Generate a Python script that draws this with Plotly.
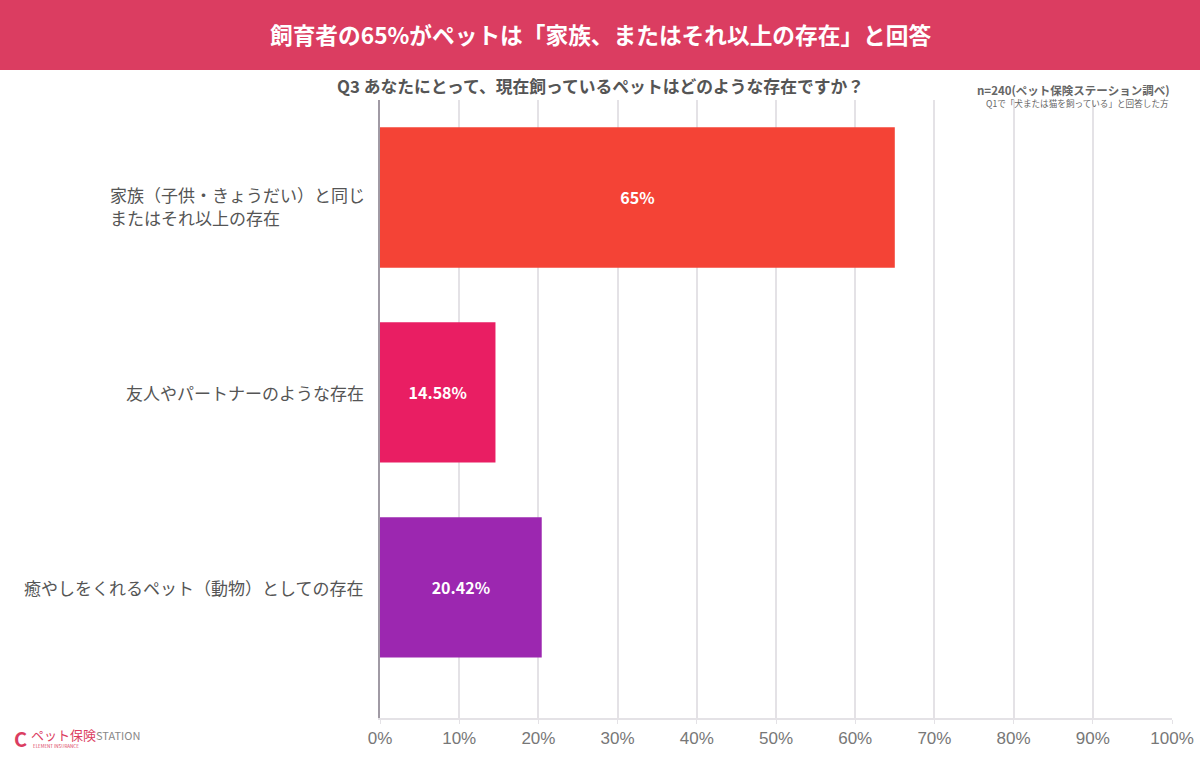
import plotly.graph_objects as go

categories = ["家族（子供・きょうだい）と同じ<br>またはそれ以上の存在", "友人やパートナーのような存在", "癒やしをくれるペット（動物）としての存在"]
values = [65, 14.58, 20.42]
value_labels = ["65%", "14.58%", "20.42%"]
bar_colors = ["#F44336", "#E91E63", "#9C27B0"]
tick_vals = [0, 10, 20, 30, 40, 50, 60, 70, 80, 90, 100]
tick_text = ["0%", "10%", "20%", "30%", "40%", "50%", "60%", "70%", "80%", "90%", "100%"]

W, H = 1200, 762
ML, MR, MT, MB = 380, 28, 100, 44
PW, PH = W - ML - MR, H - MT - MB

def px_x(x):
    return (x - ML) / PW

def px_y(y):
    return 1 - (y - MT) / PH

FONT = "Noto Sans CJK JP"
cat_ids = list(range(len(categories)))

fig = go.Figure(go.Bar(
    x=values, y=cat_ids, orientation="h",
    marker=dict(color=bar_colors, line=dict(width=0)),
    text=value_labels, textposition="inside", insidetextanchor="middle",
    textfont=dict(color="white", size=16, family=FONT, weight="bold"),
    width=0.72, hoverinfo="skip",
))

fig.update_layout(
    width=W, height=H,
    margin=dict(l=ML, r=MR, t=MT, b=MB, pad=0, autoexpand=False),
    paper_bgcolor="white", plot_bgcolor="white",
    showlegend=False,
    font=dict(family=FONT, color="#555"),
    xaxis=dict(range=[0, 100], tickvals=tick_vals, ticktext=tick_text,
               showgrid=True, gridcolor="#e4e2e6", gridwidth=1.5,
               zeroline=False, showline=True, linecolor="#e4e2e6", linewidth=1.5,
               ticks="outside", ticklen=4, tickcolor="#e4e2e6", automargin=False,
               tickfont=dict(size=17, color="#777", family="Liberation Sans"), fixedrange=True),
    yaxis=dict(range=[2.67, -0.5], showticklabels=False, showgrid=False,
               zeroline=False, showline=True, linecolor="#a09aa4", linewidth=1.5,
               tickvals=cat_ids, ticks="", automargin=False),
)

# category labels: multi-line labels drawn line by line, left-aligned block ending near x=365
LABEL_SIZE = 17.0
LINE_GAP = 23
for i, c in enumerate(categories):
    lines = c.split("<br>")
    if len(lines) == 1:
        fig.add_annotation(x=px_x(366), xref="paper", y=i, yref="y", text=c,
                           xanchor="right", align="left", showarrow=False,
                           font=dict(size=LABEL_SIZE, color="#555", family=FONT))
    else:
        for k, ln in enumerate(lines):
            fig.add_annotation(x=px_x(109), xref="paper", y=i, yref="y", text=ln,
                               xanchor="left", yanchor="middle", showarrow=False,
                               borderpad=0, yshift=3 - k * LINE_GAP,
                               font=dict(size=LABEL_SIZE, color="#555", family=FONT))

# header band
fig.add_shape(type="rect", xref="paper", yref="paper",
              x0=px_x(0), x1=px_x(W), y0=px_y(70), y1=px_y(0),
              fillcolor="#DB3D61", line=dict(width=0), layer="below")
fig.add_annotation(x=px_x(600), y=px_y(35), xref="paper", yref="paper",
                   text="<b>飼育者の65%がペットは「家族、またはそれ以上の存在」と回答</b>",
                   showarrow=False, xanchor="center", yanchor="middle",
                   font=dict(size=22.7, color="white", family=FONT))
fig.add_annotation(x=px_x(600), y=px_y(86), xref="paper", yref="paper",
                   text="<b>Q3 あなたにとって、現在飼っているペットはどのような存在ですか？</b>",
                   showarrow=False, xanchor="center", yanchor="middle",
                   font=dict(size=16.8, color="#555", family=FONT))
fig.add_annotation(x=px_x(1171), y=px_y(90), xref="paper", yref="paper",
                   text="<b>n=240(ペット保険ステーション調べ)</b>",
                   showarrow=False, xanchor="right", yanchor="middle",
                   font=dict(size=11.5, color="#666", family=FONT))
fig.add_annotation(x=px_x(1171), y=px_y(103), xref="paper", yref="paper",
                   text="Q1で「犬または猫を飼っている」と回答した方",
                   showarrow=False, xanchor="right", yanchor="middle",
                   font=dict(size=8.6, color="#666", family=FONT))

# logo
fig.add_annotation(x=px_x(12), y=px_y(738), xref="paper", yref="paper",
                   text="<b>C</b>", showarrow=False, xanchor="left", yanchor="middle",
                   font=dict(size=20, color="#DB3D61", family=FONT))
fig.add_annotation(x=px_x(29), y=px_y(734), xref="paper", yref="paper",
                   text="<span style='color:#DB3D61'>ペット保険</span><span style='color:#888;font-size:11px'>STATION</span>",
                   showarrow=False, xanchor="left", yanchor="middle",
                   font=dict(size=13, family=FONT))
fig.add_annotation(x=px_x(31), y=px_y(746), xref="paper", yref="paper",
                   text="ELEMENT INSURANCE", showarrow=False, xanchor="left", yanchor="middle",
                   font=dict(size=4.5, color="#DB3D61", family=FONT))

fig.write_html("out.html")
